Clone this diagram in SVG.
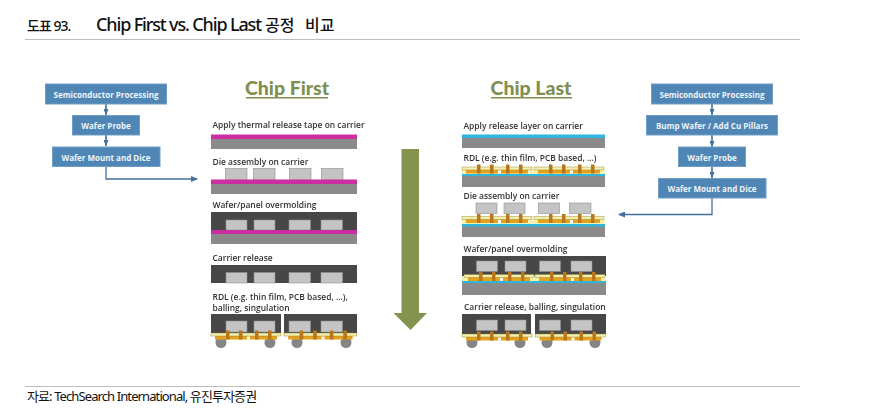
<svg xmlns="http://www.w3.org/2000/svg" width="869" height="412" viewBox="0 0 869 412">
<style>
text{font-family:"Open Sans","Noto Sans","Noto Sans CJK KR",sans-serif}
.box{fill:#4f86b5;stroke:#6f9fc6;stroke-width:1}
.bt{fill:#eef4f9;font-size:8px;font-weight:700;text-anchor:middle}
.lab{fill:#333;font-size:8.45px;font-weight:600}
.hd{fill:#7f8f50;font-family:Lato,"Open Sans",sans-serif;font-size:19.500px;font-weight:900;text-anchor:middle}
.line{fill:none;stroke:#41719c;stroke-width:1.3}
.short{fill:none;stroke:#41719c;stroke-width:1.6}
.ttl{fill:#111;font-family:"Noto Sans","Noto Sans CJK KR",sans-serif}
.rule{stroke:#bdbdbd;stroke-width:1}
.gray{fill:#8a8a8a}.mag{fill:#cc2f9f}.cy{fill:#2fb6dc}.dark{fill:#474747}.die{fill:#c4c4c4;stroke:#8f8f8f;stroke-width:.6}
.y{fill:#f3efaa;stroke:#8a7f2a;stroke-width:.4}.ly{fill:#f6f2b4}.o{fill:#e5a11f}.c{fill:#b9761c}
.ball{fill:#858585}
#chip-first,#chip-last{filter:url(#soft)}
</style>
<defs>
<filter id="soft" x="-2%" y="-2%" width="104%" height="104%"><feGaussianBlur stdDeviation="0.35"/></filter>
<marker id="a" markerWidth="7" markerHeight="6" refX="6" refY="3" orient="auto" markerUnits="userSpaceOnUse"><path d="M0 0L7 3L0 6Z" fill="#41719c"/></marker>
<marker id="s" markerWidth="7" markerHeight="5" refX="6" refY="2.5" orient="auto" markerUnits="userSpaceOnUse"><path d="M0 0L6 2.5L0 5Z" fill="#41719c"/></marker>
<g id="rdl">
<rect class="o" x="4" y="2.500" width="62" height="4"/>
<rect class="y" x="0" y="0" width="70" height="3"/>
<rect class="c" x="15" y="-2.500" width="3.500" height="9"/><rect class="c" x="28" y="-2.500" width="3.500" height="9"/>
<rect class="c" x="44" y="-2.500" width="3.500" height="9"/><rect class="c" x="57" y="-2.500" width="3.500" height="9"/>
<rect fill="#fff" x="36" y="3.500" width="3" height="3"/>
</g>
</defs>

<g id="title">
<text class="ttl" x="27" y="31" font-size="14" font-weight="500" letter-spacing="-1">도표 93.</text>
<text class="ttl" x="96" y="31" font-size="18" font-weight="500" letter-spacing="-1.15">Chip First vs. Chip Last</text>
<text class="ttl" x="265" y="31" font-size="16" font-weight="500">공정</text>
<text class="ttl" x="305" y="31" font-size="16" font-weight="500">비교</text>
<line class="rule" x1="25" y1="39.500" x2="800" y2="39.500"/>
</g>

<g id="connectors">
<path class="short" d="M106 104V115" marker-end="url(#s)"/>
<path class="short" d="M106 135V146" marker-end="url(#s)"/>
<path class="line" d="M106 167V179H197" marker-end="url(#a)"/>
<path class="short" d="M712 104V115" marker-end="url(#s)"/>
<path class="short" d="M712 135V147" marker-end="url(#s)"/>
<path class="short" d="M712 167V178" marker-end="url(#s)"/>
<path class="line" d="M712 198V214.500H619" marker-end="url(#a)"/>
</g>

<g id="l-semi"><rect class="box" x="45.500" y="84" width="121" height="20"/><text class="bt" x="106" y="97.500">Semiconductor Processing</text></g>
<g id="l-probe"><rect class="box" x="72.500" y="115.500" width="67" height="19.500"/><text class="bt" x="106" y="129">Wafer Probe</text></g>
<g id="l-mount"><rect class="box" x="52.500" y="147" width="107.500" height="19.500"/><text class="bt" x="106" y="161">Wafer Mount and Dice</text></g>

<g id="r-semi"><rect class="box" x="651.500" y="84" width="121" height="20"/><text class="bt" x="712" y="97.500">Semiconductor Processing</text></g>
<g id="r-bump"><rect class="box" x="646.500" y="115.500" width="131" height="19.500"/><text class="bt" x="712" y="129">Bump Wafer / Add Cu Pillars</text></g>
<g id="r-probe"><rect class="box" x="678.500" y="147" width="67" height="19.500"/><text class="bt" x="712" y="161">Wafer Probe</text></g>
<g id="r-mount"><rect class="box" x="658.500" y="178.500" width="107.500" height="19.500"/><text class="bt" x="712" y="192">Wafer Mount and Dice</text></g>

<text class="hd" x="287" y="95">Chip First</text>
<rect x="246" y="97" width="82" height="1.500" fill="#7f8f50"/>
<text class="hd" x="531" y="95">Chip Last</text>
<rect x="491" y="97" width="81" height="1.500" fill="#7f8f50"/>

<g id="arrow-down"><path fill="#84944f" d="M401.500 149H419V313H427L410.500 330L393.500 313H401.500Z"/></g>

<g id="chip-first">
<text class="lab" x="212.500" y="128">Apply thermal release tape on carrier</text>
<rect class="gray" x="211" y="138" width="146" height="11"/><rect class="mag" x="211" y="134.500" width="146" height="4.500"/>

<text class="lab" x="212.500" y="165">Die assembly on carrier</text>
<rect class="gray" x="211" y="183" width="146" height="11"/>
<rect class="die" x="225.500" y="168.500" width="21.500" height="11.500"/><rect class="die" x="253.500" y="168.500" width="21.500" height="11.500"/><rect class="die" x="289.500" y="168.500" width="21.500" height="11.500"/><rect class="die" x="321.500" y="168.500" width="21.500" height="11.500"/>
<rect class="mag" x="211" y="179.500" width="146" height="4.500"/>

<text class="lab" x="212.500" y="208">Wafer/panel overmolding</text>
<rect class="dark" x="211" y="212" width="146" height="19"/>
<rect class="gray" x="211" y="233" width="146" height="11"/>
<rect class="die" x="226" y="220" width="21" height="10"/><rect class="die" x="254" y="220" width="21" height="10"/><rect class="die" x="289" y="220" width="21.500" height="10"/><rect class="die" x="321" y="220" width="21.500" height="10"/>
<rect class="mag" x="211" y="230" width="146" height="4"/>

<text class="lab" x="212.500" y="261">Carrier release</text>
<rect class="dark" x="211" y="265" width="146" height="18"/>
<rect class="die" x="226" y="272.500" width="21" height="10.500"/><rect class="die" x="254" y="272.500" width="21" height="10.500"/><rect class="die" x="289" y="272.500" width="21.500" height="10.500"/><rect class="die" x="321" y="272.500" width="21.500" height="10.500"/>

<text class="lab" x="212.500" y="299.500">RDL (e.g. thin film, PCB based, ...),</text>
<text class="lab" x="212.500" y="310.500">balling, singulation</text>
<circle class="ball" cx="221" cy="342.500" r="5.500"/><circle class="ball" cx="270" cy="342.500" r="5.500"/><circle class="ball" cx="297" cy="342.500" r="5.500"/><circle class="ball" cx="346" cy="342.500" r="5.500"/>
<rect class="dark" x="211" y="314" width="70" height="19"/><rect class="dark" x="284" y="314" width="73" height="19"/>
<rect class="die" x="226" y="321" width="21" height="11"/><rect class="die" x="254" y="321" width="21" height="11"/><rect class="die" x="289" y="321" width="21.500" height="11"/><rect class="die" x="321" y="321" width="21.500" height="11"/>
<use href="#rdl" x="211" y="333"/><use transform="translate(284 333) scale(1.040 1)" href="#rdl"/>
</g>

<g id="chip-last">
<text class="lab" x="463.500" y="129">Apply release layer on carrier</text>
<rect class="gray" x="462" y="137" width="143" height="11"/><rect class="cy" x="462" y="134.500" width="143" height="3.500"/>

<text class="lab" x="463.500" y="161">RDL (e.g. thin film, PCB based, ...)</text>
<rect class="gray" x="462" y="176" width="143" height="11"/><rect class="cy" x="462" y="174" width="143" height="2"/>
<rect class="ly" x="462" y="170" width="143" height="4"/>
<use href="#rdl" x="462" y="167"/><use href="#rdl" x="534" y="167"/>

<text class="lab" x="463.500" y="199">Die assembly on carrier</text>
<rect class="gray" x="462" y="226" width="143" height="11"/><rect class="cy" x="462" y="224" width="143" height="2.500"/>
<rect class="ly" x="462" y="219.500" width="143" height="4.500"/>
<use href="#rdl" x="462" y="216.500"/><use href="#rdl" x="534" y="216.500"/>
<rect class="die" x="476" y="203" width="21" height="10.500"/><rect class="die" x="504" y="203" width="21" height="10.500"/><rect class="die" x="538.500" y="203" width="21" height="10.500"/><rect class="die" x="569.500" y="203" width="21.500" height="10.500"/>

<text class="lab" x="463.500" y="252">Wafer/panel overmolding</text>
<rect class="dark" x="462" y="256" width="144" height="20"/>
<rect class="gray" x="462" y="283" width="144" height="12"/><rect class="cy" x="462" y="281" width="144" height="2"/>
<rect class="ly" x="462" y="277" width="144" height="4"/>
<use href="#rdl" x="464" y="274.500"/><use href="#rdl" x="535" y="274.500"/>
<rect class="die" x="476.500" y="261" width="21" height="10.500"/><rect class="die" x="505" y="261" width="21" height="10.500"/><rect class="die" x="539.500" y="261" width="21" height="10.500"/><rect class="die" x="571" y="261" width="21" height="10.500"/>

<text class="lab" x="464" y="310">Carrier release, balling, singulation</text>
<circle class="ball" cx="472" cy="342.500" r="5.500"/><circle class="ball" cx="520" cy="342.500" r="5.500"/><circle class="ball" cx="547" cy="342.500" r="5.500"/><circle class="ball" cx="595" cy="342.500" r="5.500"/>
<rect class="dark" x="462" y="314" width="69" height="20"/><rect class="dark" x="535" y="314" width="71" height="20"/>
<rect class="die" x="476.500" y="320" width="21" height="10.500"/><rect class="die" x="505" y="320" width="21" height="10.500"/><rect class="die" x="539.500" y="320" width="21" height="10.500"/><rect class="die" x="571" y="320" width="21" height="10.500"/>
<use href="#rdl" x="462" y="334"/><use href="#rdl" x="535.500" y="334"/>
</g>

<g id="footer">
<line class="rule" x1="25" y1="386.500" x2="800" y2="386.500"/>
<text class="ttl" x="27" y="401" font-size="13" letter-spacing="-.9">자료: TechSearch International, 유진투자증권</text>
</g>
</svg>
